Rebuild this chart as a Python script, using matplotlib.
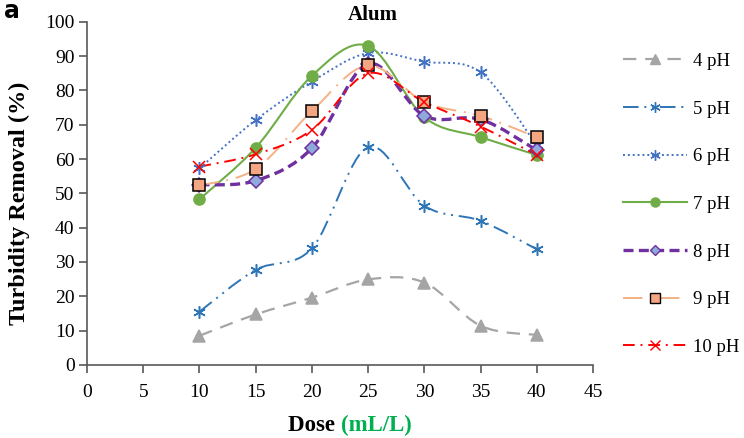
import numpy as np
import matplotlib
matplotlib.use("Agg")
import matplotlib.pyplot as plt
from matplotlib.path import Path
from matplotlib.patches import PathPatch
from matplotlib.lines import Line2D

plt.rcParams['font.family'] = ['Liberation Serif', 'DejaVu Serif']

# Dose (mL/L)
dose = [10, 15, 20, 25, 30, 35, 40]

# Turbidity removal (%)
ph4 = [8.5, 14.7, 19.6, 24.9, 24.0, 11.4, 8.7]
ph5 = [15.5, 27.7, 34.0, 63.5, 46.4, 42.0, 33.7]
ph6 = [57.3, 71.4, 82.6, 90.9, 88.4, 85.3, 64.0]
ph7 = [48.3, 63.3, 84.3, 93.0, 72.2, 66.4, 61.2]
ph8 = [52.5, 53.7, 63.2, 87.8, 72.6, 71.6, 62.6]
ph9 = [52.3, 57.1, 74.0, 87.3, 76.6, 72.6, 66.4]
ph10 = [57.8, 61.4, 68.5, 85.0, 76.6, 69.5, 61.2]

labels = ["4 pH", "5 pH", "6 pH", "7 pH", "8 pH", "9 pH", "10 pH"]
series = [ph4, ph5, ph6, ph7, ph8, ph9, ph10]

styles = [
    dict(color="#A5A5A5", lw=1.6, ls=(0, (6, 4)), marker="^", ms=8, mfc="#A5A5A5", mec="#A5A5A5"),
    dict(color="#2E75B6", lw=1.4, ls=(0, (8, 3, 1, 3, 1, 3)), marker=(6, 2, 0), ms=9, mfc="none", mec="#2E75B6"),
    dict(color="#4472C4", lw=1.4, ls=(0, (1, 1.5)), marker=(6, 2, 0), ms=9, mfc="none", mec="#4472C4"),
    dict(color="#70AD47", lw=1.5, ls="-", marker="o", ms=8, mfc="#70AD47", mec="#70AD47"),
    dict(color="#7030A0", lw=2.4, ls=(0, (3, 1.6)), marker="D", ms=7, mfc="#8EA9DB", mec="#7030A0"),
    dict(color="#F4B183", lw=1.4, ls=(0, (10, 4, 1, 4)), marker="s", ms=8, mfc="#F4A582", mec="black"),
    dict(color="#FF0000", lw=1.4, ls=(0, (6, 3, 1, 3)), marker="x", ms=8, mfc="#FF0000", mec="#FF0000"),
]


def smooth_path(x, y):
    # cubic Bezier segments (Catmull-Rom style, like Excel smoothed lines)
    pts = np.column_stack([x, y]).astype(float)
    n = len(pts)
    verts = [pts[0]]
    codes = [Path.MOVETO]
    for i in range(n - 1):
        p0 = pts[i - 1] if i > 0 else pts[i]
        p1 = pts[i]
        p2 = pts[i + 1]
        p3 = pts[i + 2] if i + 2 < n else pts[i + 1]
        c1 = p1 + (p2 - p0) / 6.0
        c2 = p2 - (p3 - p1) / 6.0
        verts += [c1, c2, p2]
        codes += [Path.CURVE4] * 3
    return Path(verts, codes)


fig = plt.figure(figsize=(7.44, 4.38), dpi=100)
ax = fig.add_axes([0.117, 0.167, 0.680, 0.783])

handles = []
for lab, vals, st in zip(labels, series, styles):
    patch = PathPatch(smooth_path(dose, vals), facecolor="none", edgecolor=st["color"],
                      lw=st["lw"], ls=st["ls"], zorder=2)
    ax.add_patch(patch)
    ax.plot(dose, vals, ls="none", marker=st["marker"], ms=st["ms"], mfc=st["mfc"],
            mec=st["mec"], mew=1.1, zorder=3)
    handles.append(Line2D([], [], color=st["color"], lw=st["lw"], ls=st["ls"],
                          marker=st["marker"], ms=st["ms"] - 1.5, mfc=st["mfc"],
                          mec=st["mec"], mew=1.0))

ax.set_xlim(0, 45)
ax.set_ylim(0, 100)
ax.set_xticks(range(0, 46, 5))
ax.set_yticks(range(0, 101, 10))
for s in ["top", "right"]:
    ax.spines[s].set_visible(False)
for s in ["left", "bottom"]:
    ax.spines[s].set_color("#595959")
    ax.spines[s].set_linewidth(1.2)
ax.tick_params(axis="both", labelsize=14, color="#595959", length=6, width=1.2, direction="out")
ax.tick_params(axis="x", pad=8)
ax.tick_params(axis="y", pad=3)

ax.set_ylabel("Turbidity Removal (%)", fontsize=17.5, fontweight="bold")
ax.yaxis.set_label_coords(-0.112, 0.47)
ax.set_title("Alum", fontsize=15, fontweight="bold", x=0.565, y=1.006, pad=0)

t1 = fig.text(341 / 744, 1 - 431 / 438, "Dose ", fontsize=16.5, fontweight="bold",
              ha="right", va="baseline")
ax.annotate("(mL/L)", xy=(1, 0), xycoords=t1, va="bottom", ha="left",
            fontsize=16.5, fontweight="bold", color="#00B050")

fig.text(0.006, 0.958, "a", fontsize=17, fontweight="bold", family="DejaVu Sans")

leg = fig.legend(handles, labels, loc="upper left", bbox_to_anchor=(0.815, 0.918),
                 frameon=False, fontsize=13.5, handlelength=3.4, labelspacing=1.63,
                 handletextpad=0.3, numpoints=1)

fig.savefig("out.png", dpi=100)
